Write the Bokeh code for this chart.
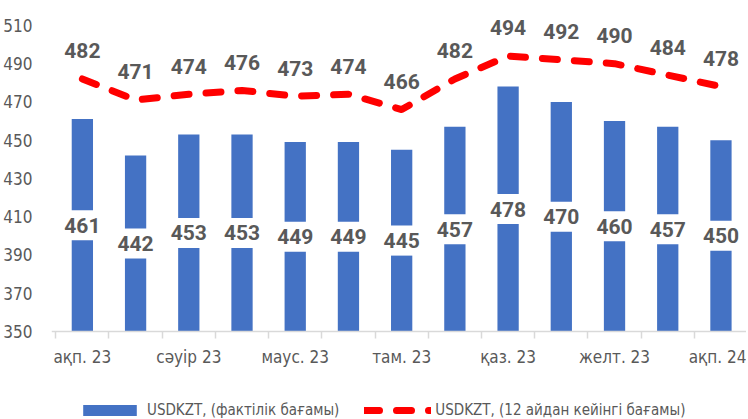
from bokeh.plotting import figure
from bokeh.models import (ColumnDataSource, Legend, LegendItem,
                          FixedTicker, Range1d)
from bokeh.core.properties import value
from bokeh.embed import file_html
from bokeh.resources import INLINE

# ---- data ----
months = ["ақп. 23", "нау. 23", "сәуір 23", "мам. 23", "маус. 23", "шіл. 23",
          "там. 23", "қыр. 23", "қаз. 23", "қар. 23", "желт. 23", "қаң. 24", "ақп. 24"]
actual = [461, 442, 453, 453, 449, 449, 445, 457, 478, 470, 460, 457, 450]
forward = [482, 471, 474, 476, 473, 474, 466, 482, 494, 492, 490, 484, 478]
y_ticks = [350, 370, 390, 410, 430, 450, 470, 490, 510]
name_actual = "USDKZT, (фактілік бағамы)"
name_forward = "USDKZT, (12 айдан кейінгі бағамы)"

GREY = "#595959"
AXFONT = "DejaVu Sans Condensed"
LBLFONT = "Roboto"
YMIN = y_ticks[0]
# the frame reaches down to the legend row; the x axis sits at YMIN
RANGE_LO, RANGE_HI = 304.0, 523.0

xs = list(range(len(months)))
src = ColumnDataSource(dict(
    x=xs,
    actual=actual,
    forward=forward,
    mid=[(YMIN + v) / 2 for v in actual],
    a_txt=[str(v) for v in actual],
    f_txt=[str(v) for v in forward],
))

p = figure(frame_width=695, frame_height=419, output_backend="svg", toolbar_location=None,
           x_range=Range1d(-0.58, len(months) - 0.52), y_range=Range1d(RANGE_LO, RANGE_HI),
           min_border_left=40, min_border_right=0, min_border_top=0,
           min_border_bottom=0)
p.outline_line_color = None
p.grid.visible = False
p.background_fill_color = "white"
p.border_fill_color = "white"

bars = p.vbar(x="x", top="actual", bottom=YMIN, width=0.4, source=src,
              fill_color="#4472C4", line_color=None)
p.rect(x="x", y="mid", width=0.5, height=30, height_units="screen", source=src,
       fill_color="white", line_color=None)
line = p.line(x="x", y="forward", source=src, line_color="#FF0000",
              line_width=7, line_dash="15 17", line_cap="round", line_join="round")

# data labels
p.text(x="x", y="mid", text="a_txt", source=src, text_align="center",
       text_baseline="middle", text_font=value(LBLFONT), text_font_size="21px",
       text_font_style="bold", text_color=GREY)
p.text(x="x", y="forward", text="f_txt", source=src, text_align="center",
       text_baseline="middle", y_offset=-28, text_font=value(LBLFONT),
       text_font_size="21px", text_font_style="bold", text_color=GREY)

ya = p.yaxis[0]
ya.ticker = FixedTicker(ticks=y_ticks)
ya.axis_line_color = None
ya.major_tick_line_color = None
ya.minor_tick_line_color = None
ya.major_label_text_font = AXFONT
ya.major_label_text_font_size = "17px"
ya.major_label_text_color = GREY
ya.major_label_standoff = 13

xa = p.xaxis[0]
xa.fixed_location = YMIN
xa.ticker = FixedTicker(ticks=xs[::2], minor_ticks=[i - 0.5 for i in range(len(months) + 1)])
xa.major_label_overrides = {i: months[i] for i in xs}
xa.axis_line_color = "#D9D9D9"
xa.axis_line_width = 1.5
xa.major_tick_line_color = None
xa.major_tick_out = 0
xa.major_tick_in = 0
xa.minor_tick_line_color = "#D9D9D9"
xa.minor_tick_line_width = 1.5
xa.minor_tick_out = 7
xa.minor_tick_in = 0
xa.major_label_text_font = AXFONT
xa.major_label_text_font_size = "17px"
xa.major_label_text_color = GREY
xa.major_label_standoff = 9

legend = Legend(items=[LegendItem(label=name_actual, renderers=[bars]),
                       LegendItem(label=name_forward, renderers=[line])],
                orientation="horizontal", location=(25, 0),
                glyph_width=67, glyph_height=14, label_height=14,
                label_standoff=4, spacing=25, padding=0, margin=0,
                border_line_color=None, background_fill_alpha=0,
                label_text_font=AXFONT, label_text_font_size="15px",
                label_text_color=GREY)
p.add_layout(legend, "center")

open("out.html", "w").write(file_html(p, INLINE))
